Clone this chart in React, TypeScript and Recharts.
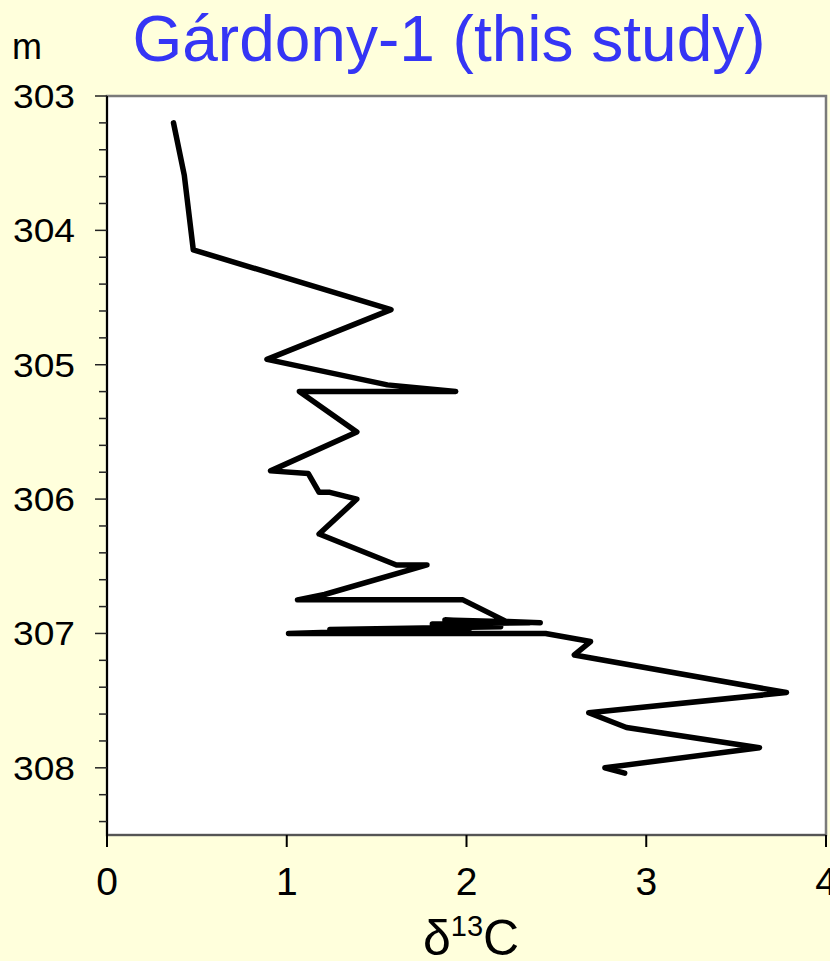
import React from 'react'
import { LineChart, Line, XAxis, YAxis, ReferenceArea } from 'recharts'

// Gárdony-1 core: carbon isotope profile against depth (m)
const depthM = [
  303.2, 303.59, 304.145, 304.59, 304.96, 305.15, 305.2, 305.2, 305.5, 305.79,
  305.81, 305.95, 305.95, 306.0, 306.26, 306.49, 306.49, 306.71, 306.75, 306.75,
  306.91, 306.92, 306.9, 306.92, 306.93, 306.95, 306.97, 306.96, 307.0, 307.0,
  307.06, 307.16, 307.44, 307.59, 307.7, 307.85, 308.0, 308.04,
]
const d13C = [
  0.37, 0.43, 0.48, 1.58, 0.89, 1.56, 1.94, 1.07, 1.39, 0.91,
  1.12, 1.18, 1.24, 1.39, 1.18, 1.61, 1.78, 1.21, 1.06, 1.98,
  2.22, 2.41, 1.88, 2.35, 1.81, 2.19, 1.24, 2.02, 1.01, 2.44,
  2.69, 2.6, 3.78, 2.68, 2.89, 3.63, 2.77, 2.88,
]

const xTicks = [0, 1, 2, 3, 4]
const depthMajor = [303, 304, 305, 306, 307, 308]
const depthTicks = [
  303, 303.2, 303.4, 303.6, 303.8, 304, 304.2, 304.4, 304.6, 304.8,
  305, 305.2, 305.4, 305.6, 305.8, 306, 306.2, 306.4, 306.6, 306.8,
  307, 307.2, 307.4, 307.6, 307.8, 308, 308.2, 308.4,
]

const data = depthM.map((d, i) => ({ depth: d, c13: d13C[i] }))

const FONT = '"Liberation Sans", Arial, sans-serif'

const DepthTick = ({ x, y, payload }: any) => {
  const major = depthMajor.some(m => Math.abs(m - payload.value) < 1e-6)
  return (
    <g>
      <line x1={x - (major ? 12 : 8)} x2={x} y1={y} y2={y} stroke="#222" strokeWidth={1.5} />
      {major && (
        <text x={x - 94} y={y} dy={12} fontSize={33} fill="#000" fontFamily={FONT}
          textLength={62} lengthAdjust="spacingAndGlyphs">
          {payload.value}
        </text>
      )}
    </g>
  )
}

const ValueTick = ({ x, y, payload }: any) => (
  <g>
    <line x1={x} x2={x} y1={y} y2={y + 12} stroke="#000" strokeWidth={2} />
    <text x={x} y={y + 60} textAnchor="middle" fontSize={39} fill="#000" fontFamily={FONT}>
      {payload.value}
    </text>
  </g>
)

export default function App() {
  return (
    <div style={{ position: 'absolute', left: 0, top: 0, width: 830, height: 961, background: '#FFFFDC', fontFamily: FONT }}>
      <svg width={830} height={961} style={{ position: 'absolute', left: 0, top: 0 }}>
        <text x={449} y={61} textAnchor="middle" fontSize={64} fill="#3535F5" fontFamily={FONT}>
          Gárdony-1 (this study)
        </text>
        <text x={12} y={59} fontSize={36} fill="#000" fontFamily={FONT}>m</text>
        <text x={423} y={955} fontSize={50} fill="#000" fontFamily={FONT}>
          δ<tspan fontSize={29} dy={-19}>13</tspan><tspan dy={19}>C</tspan>
        </text>
      </svg>
      <div style={{ position: 'absolute', left: 0, top: 0 }}>
        <LineChart width={830} height={961} data={data} margin={{ top: 96, right: 4, bottom: 66, left: 7 }}>
          <ReferenceArea x1={0} x2={4} y1={303} y2={308.5} fill="#fff" fillOpacity={1}
            stroke="#7a7a7a" strokeWidth={2.5} ifOverflow="visible" />
          <XAxis type="number" dataKey="c13" domain={[0, 4]} ticks={xTicks} height={60}
            axisLine={{ stroke: '#555', strokeWidth: 2 }} tickLine={false} tickSize={0} tickMargin={0}
            tick={<ValueTick />} allowDataOverflow />
          <YAxis type="number" dataKey="depth" domain={[303, 308.5]} ticks={depthTicks} reversed width={100}
            axisLine={{ stroke: '#000', strokeWidth: 2 }} tickLine={false} tickSize={0} tickMargin={0}
            tick={<DepthTick />} interval={0} allowDataOverflow />
          <Line type="linear" dataKey="depth" stroke="#000" strokeWidth={5.5} dot={false}
            strokeLinejoin="round" strokeLinecap="round" isAnimationActive={false} />
        </LineChart>
      </div>
    </div>
  )
}
